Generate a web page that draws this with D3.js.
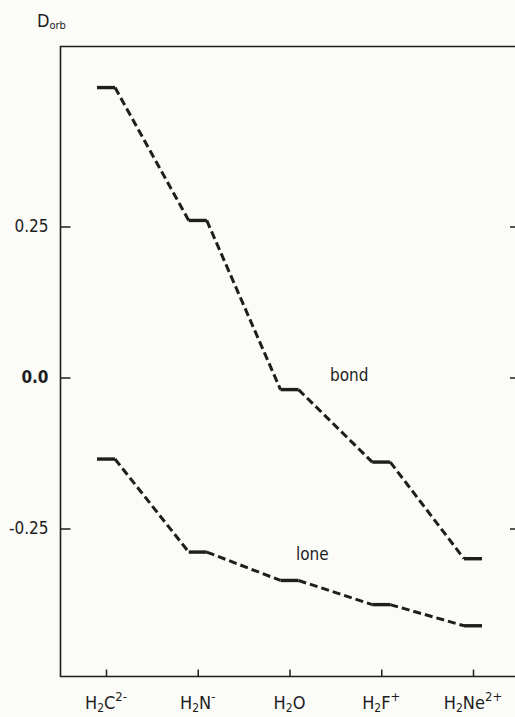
<!DOCTYPE html>
<html>
<head>
<meta charset="utf-8">
<script src="https://cdn.jsdelivr.net/npm/d3@7"></script>
<style>
  html, body { margin: 0; padding: 0; background: #fbfbf8; }
  svg { display: block; }
  text { font-family: "DejaVu Sans Condensed", "DejaVu Sans", sans-serif; fill: #1e1e1e; }
</style>
</head>
<body>
<svg id="chart" width="515" height="717"></svg>
<script>
// Molecules along the isoelectronic H2X series
const categories = ["H2C2-", "H2N-", "H2O", "H2F+", "H2Ne2+"];
const centralAtoms = ["C", "N", "O", "F", "Ne"];
const charges = ["2-", "-", "", "+", "2+"];

// Orbital D values for the two orbital types
const bondValues = [0.48, 0.26, -0.02, -0.14, -0.30];
const loneValues = [-0.135, -0.289, -0.336, -0.376, -0.411];

const yTickValues = [0.25, 0.0, -0.25];
const yTickLabels = ["0.25", "0.0", "-0.25"];

const svg = d3.select("#chart");
const ink = "#1e1e1e";

const frame = { left: 60.5, right: 517, top: 46.5, bottom: 676.5 };

const x = d3.scalePoint().domain(categories).range([106, 473]);
const y = d3.scaleLinear().domain([-0.495, 0.548]).range([frame.bottom, frame.top]);

// Frame
svg.append("path")
  .attr("d", `M${frame.right},${frame.top}H${frame.left}V${frame.bottom}H${frame.right}`)
  .attr("fill", "none").attr("stroke", ink).attr("stroke-width", 1.6);

// Left axis: ticks point into the plot
const yAxis = svg.append("g")
  .attr("transform", `translate(${frame.left},0)`)
  .call(d3.axisLeft(y).tickValues(yTickValues)
    .tickFormat((d, i) => yTickLabels[i]).tickSizeInner(-10).tickSizeOuter(0).tickPadding(12));
yAxis.select(".domain").remove();
yAxis.selectAll(".tick line").attr("stroke", ink).attr("stroke-width", 1.5);
yAxis.selectAll(".tick text").attr("font-size", 17).attr("fill", ink)
  .attr("font-family", "'DejaVu Sans Condensed', 'DejaVu Sans', sans-serif")
  .attr("font-weight", (d) => d === 0 ? "bold" : "normal");

// Right axis: ticks only
const yAxisR = svg.append("g")
  .attr("transform", `translate(${frame.right},0)`)
  .call(d3.axisRight(y).tickValues(yTickValues).tickFormat("").tickSizeInner(-7).tickSizeOuter(0));
yAxisR.select(".domain").remove();
yAxisR.selectAll(".tick line").attr("stroke", ink).attr("stroke-width", 1.5);

// Bottom axis: ticks pointing up, labels built with sub/superscripts
const xAxis = svg.append("g")
  .attr("transform", `translate(0,${frame.bottom})`)
  .call(d3.axisBottom(x).tickSizeInner(-7).tickSizeOuter(0).tickFormat(""));
xAxis.select(".domain").remove();
xAxis.selectAll(".tick line").attr("stroke", ink).attr("stroke-width", 1.5);

categories.forEach((c, i) => {
  const t = svg.append("text")
    .attr("x", x(c)).attr("y", 709)
    .attr("text-anchor", "middle")
    .attr("font-size", 18)
    .attr("font-family", "'DejaVu Sans', sans-serif");
  t.append("tspan").text("H");
  t.append("tspan").attr("font-size", 12).attr("dy", 3).text("2");
  t.append("tspan").attr("dy", -3).text(centralAtoms[i]);
  if (charges[i]) {
    t.append("tspan").attr("font-size", 13).attr("dy", -8).text(charges[i]);
  }
});

// Axis title
const title = svg.append("text").attr("x", 37).attr("y", 27).attr("font-size", 18)
  .attr("font-family", "'DejaVu Sans', sans-serif");
title.append("tspan").text("D");
title.append("tspan").attr("font-size", 11).attr("dy", 2).text("orb");

// Each value drawn as a short level, joined to the next by a dashed connector
const halfWidth = 9;
function drawSeries(values) {
  const g = svg.append("g");
  g.selectAll("line.level").data(values).join("line")
    .attr("class", "level")
    .attr("x1", (d, i) => x(categories[i]) - halfWidth)
    .attr("x2", (d, i) => x(categories[i]) + halfWidth)
    .attr("y1", (d) => y(d)).attr("y2", (d) => y(d))
    .attr("stroke", ink).attr("stroke-width", 3.4);
  g.selectAll("line.link").data(values.slice(1)).join("line")
    .attr("class", "link")
    .attr("x1", (d, i) => x(categories[i]) + halfWidth)
    .attr("y1", (d, i) => y(values[i]))
    .attr("x2", (d, i) => x(categories[i + 1]) - halfWidth)
    .attr("y2", (d) => y(d))
    .attr("stroke", ink).attr("stroke-width", 3)
    .attr("stroke-dasharray", "8,4");
}
drawSeries(bondValues);
drawSeries(loneValues);

// Series labels
svg.append("text").attr("x", 330).attr("y", 381).attr("font-size", 17).text("bond");
svg.append("text").attr("x", 296).attr("y", 560).attr("font-size", 17).text("lone");
</script>
</body>
</html>
